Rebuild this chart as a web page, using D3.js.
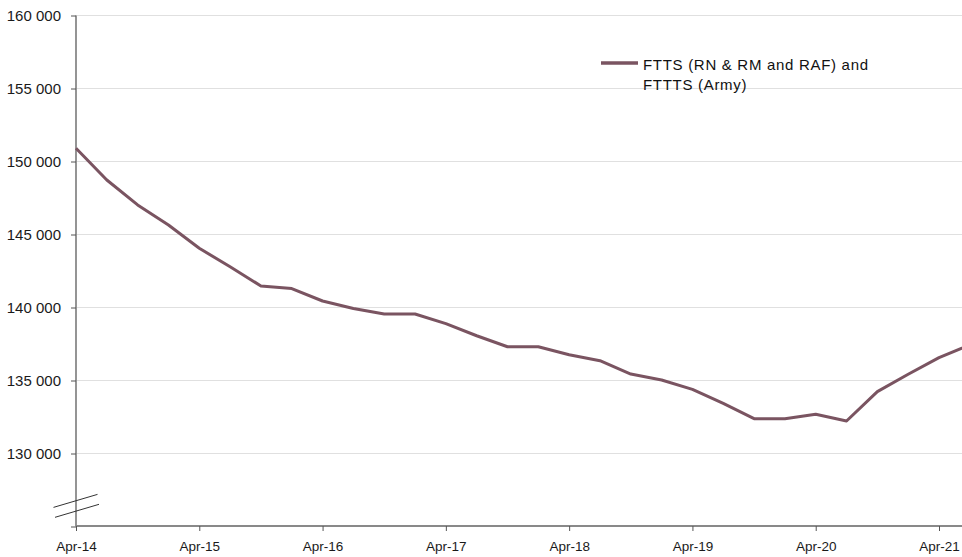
<!DOCTYPE html>
<html lang="en">
<head>
	<meta charset="UTF-8">
	<title>FTTS and FTTTS strength</title>
	<script src="https://d3js.org/d3.v7.min.js"></script>
	<style>
		body { margin: 0; background: #fff; }
		svg { display: block; }
	</style>
</head>
<body>

	<svg width="962" height="557"></svg>

	<script>

		// quarterly figures, Apr-14 to Jul-21
		var quarters = ["Apr-14", "Jul-14", "Oct-14", "Jan-15", "Apr-15", "Jul-15", "Oct-15", "Jan-16",
			"Apr-16", "Jul-16", "Oct-16", "Jan-17", "Apr-17", "Jul-17", "Oct-17", "Jan-18",
			"Apr-18", "Jul-18", "Oct-18", "Jan-19", "Apr-19", "Jul-19", "Oct-19", "Jan-20",
			"Apr-20", "Jul-20", "Oct-20", "Jan-21", "Apr-21", "Jul-21"];

		var strength = [150870, 148700, 146990, 145620, 144020, 142760, 141440, 141260,
			140410, 139900, 139520, 139520, 138860, 138030, 137280, 137280,
			136730, 136320, 135410, 135000, 134360, 133400, 132350, 132350,
			132650, 132190, 134200, 135390, 136530, 137400];

		var yTicks = [125000, 130000, 135000, 140000, 145000, 150000, 155000, 160000];
		var xTickLabels = ["Apr-14", "Apr-15", "Apr-16", "Apr-17", "Apr-18", "Apr-19", "Apr-20", "Apr-21"];

		var seriesName = ["FTTS (RN & RM and RAF) and", "FTTTS (Army)"];

		var lineColor = "#7a5461";
		var axisColor = "#898989";
		var font = "'Liberation Sans', Arial, sans-serif";

		var svg = d3.select("svg");

		// plot area edges (window.top is read-only, so own names)
		var plotL = 76, plotR = 962, plotT = 15, plotB = 526;

		var x = d3.scaleLinear()
			.domain([0, 28])
			.range([plotL, 939]);

		var y = d3.scaleLinear()
			.domain([125000, 160000])
			.range([plotB, plotT]);

		var fmt = function(d) { return d3.format(",")(d).replace(",", " "); };

		// gridlines
		svg.append("g")
			.selectAll("line")
			.data(yTicks.slice(1))
			.enter()
			.append("line")
			.attr("x1", plotL)
			.attr("x2", plotR)
			.attr("y1", function(d) { return y(d) + 0.5; })
			.attr("y2", function(d) { return y(d) + 0.5; })
			.attr("stroke", "#e0e0e0")
			.attr("stroke-width", 1.2);

		// y axis
		var yAxis = svg.append("g")
			.attr("transform", "translate(" + plotL + ",0.5)")
			.call(d3.axisLeft(y).tickValues(yTicks).tickSize(5).tickPadding(10)
				.tickFormat(function(d) { return d == 125000 ? "" : fmt(d); }));

		yAxis.select(".domain").attr("stroke", axisColor).attr("stroke-width", 1.8)
			.attr("d", "M0," + plotT + "V" + plotB);
		yAxis.selectAll(".tick line").attr("stroke", "#555").attr("stroke-width", 1);
		yAxis.selectAll("text")
			.style("font-family", font)
			.style("font-size", "15px")
			.attr("fill", "#1a1a1a");

		// x axis
		var xIdx = xTickLabels.map(function(q) { return quarters.indexOf(q); });

		var xAxis = svg.append("g")
			.attr("transform", "translate(0," + plotB + ")")
			.call(d3.axisBottom(x).tickValues(xIdx).tickSize(5).tickPadding(10)
				.tickFormat(function(d) { return quarters[d]; }));

		xAxis.select(".domain").attr("stroke", axisColor).attr("stroke-width", 1.8)
			.attr("d", "M" + plotL + ",0H" + plotR);
		xAxis.selectAll(".tick line").attr("stroke", "#555").attr("stroke-width", 1);
		xAxis.selectAll("text")
			.style("font-family", font)
			.style("font-size", "13.5px")
			.attr("fill", "#1a1a1a");

		// axis break marks
		var brk = svg.append("g").attr("stroke", "#333").attr("stroke-width", 1);
		[126720, 126040].forEach(function(v, i) {
			var cx = x(0) + 0.5 + i * 1.5;
			var cy = y(v);
			brk.append("line")
				.attr("x1", cx - 23).attr("y1", cy + 6.5)
				.attr("x2", cx + 21).attr("y2", cy - 6.5);
		});

		// series line
		var line = d3.line()
			.x(function(d, i) { return x(i); })
			.y(function(d) { return y(d); });

		svg.append("path")
			.datum(strength)
			.attr("fill", "none")
			.attr("stroke", lineColor)
			.attr("stroke-width", 3)
			.attr("stroke-linejoin", "round")
			.attr("d", line);

		// legend
		var legend = svg.append("g").attr("transform", "translate(601,63)");

		legend.append("line")
			.attr("x1", 0).attr("x2", 37)
			.attr("y1", 0).attr("y2", 0)
			.attr("stroke", lineColor)
			.attr("stroke-width", 3.5);

		legend.append("text")
			.attr("x", 42)
			.attr("y", 6.5)
			.style("font-family", font)
			.style("font-size", "15px")
			.style("letter-spacing", "0.7px")
			.attr("fill", "#111")
			.selectAll("tspan")
			.data(seriesName)
			.enter()
			.append("tspan")
			.attr("x", 42)
			.attr("dy", function(d, i) { return i == 0 ? 0 : 20; })
			.text(function(d) { return d; });

	</script>

</body>
</html>
